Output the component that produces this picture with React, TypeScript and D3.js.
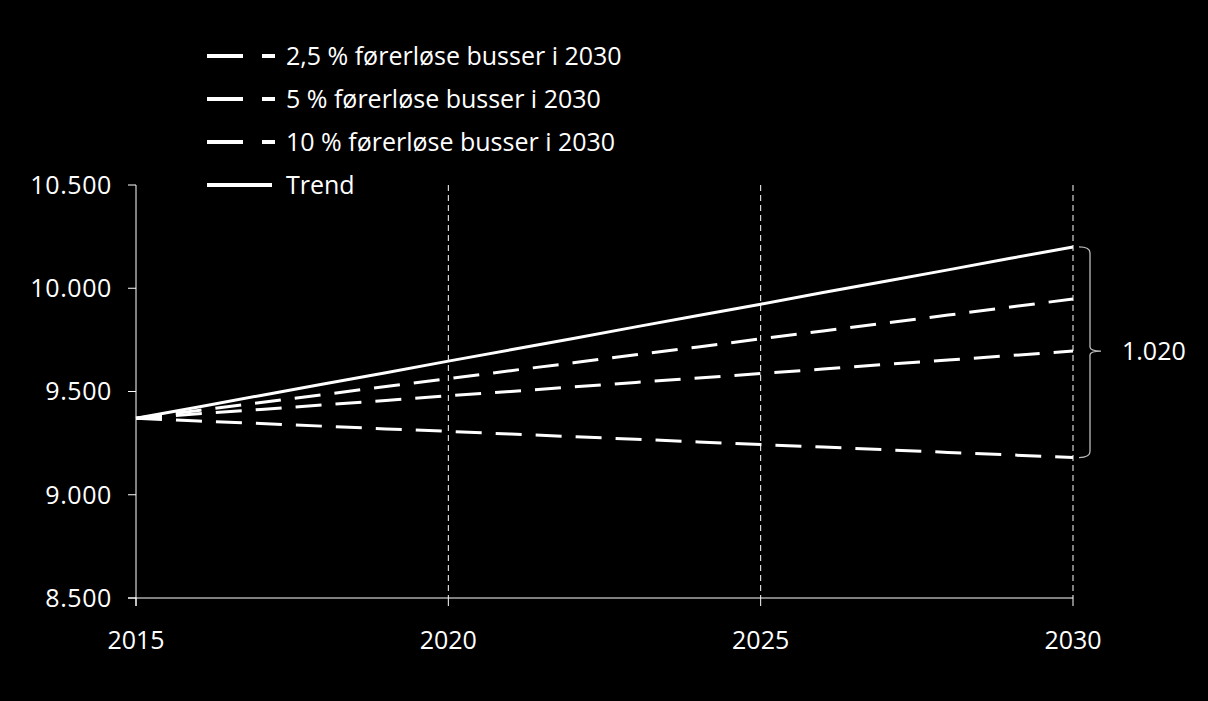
import React from "react";
import * as d3 from "d3";

const years = [2015, 2016, 2017, 2018, 2019, 2020, 2021, 2022, 2023, 2024, 2025, 2026, 2027, 2028, 2029, 2030];
const trend = [9370, 9425, 9481, 9536, 9591, 9647, 9702, 9757, 9813, 9868, 9923, 9979, 10034, 10089, 10145, 10200];
const s25 = [9370, 9408, 9447, 9485, 9524, 9562, 9601, 9639, 9678, 9716, 9755, 9793, 9832, 9870, 9909, 9948];
const s5 = [9370, 9392, 9413, 9435, 9457, 9479, 9500, 9522, 9544, 9565, 9587, 9609, 9631, 9652, 9674, 9696];
const s10 = [9370, 9357, 9345, 9332, 9319, 9307, 9294, 9281, 9269, 9256, 9243, 9231, 9218, 9205, 9193, 9180];
const yTicks = [8500, 9000, 9500, 10000, 10500];
const xTicks = [2015, 2020, 2025, 2030];
const legendLabels = ["2,5 % førerløse busser i 2030", "5 % førerløse busser i 2030", "10 % førerløse busser i 2030", "Trend"];
const braceLabel = "1.020";

const W = 1208, H = 701;
const FONT = "'Open Sans', 'Liberation Sans', sans-serif";

export default function App() {
  const x = d3.scaleLinear().domain([2015, 2030]).range([136, 1073]);
  const y = d3.scaleLinear().domain([8500, 10500]).range([598, 185]);
  const line = d3.line<number>().x((_, i) => x(years[i])).y((d) => y(d));
  const fmt = (v: number) => d3.format(",")(v).replace(",", ".");

  const dashed = [s25, s5, s10];
  const topV = trend[trend.length - 1];
  const botV = s10[s10.length - 1];
  const midV = s5[s5.length - 1];
  const bx = x(2030);
  const yT = y(topV), yB = y(botV), yM = y(midV);
  const brace = `M${bx + 6},${yT} Q${bx + 17},${yT} ${bx + 17},${yT + 6} L${bx + 17},${yM - 4} Q${bx + 17},${yM} ${bx + 28},${yM} Q${bx + 17},${yM} ${bx + 17},${yM + 4} L${bx + 17},${yB - 6} Q${bx + 17},${yB} ${bx + 6},${yB}`;

  return (
    <svg width={W} height={H} style={{ position: "absolute", left: 0, top: 0, display: "block" }} fontFamily={FONT}>
      <rect x={0} y={0} width={W} height={H} fill="#000" />
      {xTicks.slice(1).map((t) => (
        <line key={t} x1={x(t)} x2={x(t)} y1={y(10500)} y2={y(8500)} stroke="#fff" strokeWidth={1} strokeDasharray="6,4" />
      ))}
      <line x1={x(2015)} x2={x(2015)} y1={y(10500)} y2={y(8500) + 8} stroke="#fff" strokeWidth={1} />
      <line x1={x(2015) - 8} x2={x(2030)} y1={y(8500)} y2={y(8500)} stroke="#fff" strokeWidth={1} />
      {yTicks.map((t) => (
        <g key={t}>
          <line x1={x(2015) - 8} x2={x(2015)} y1={y(t)} y2={y(t)} stroke="#fff" strokeWidth={1} />
          <text x={112} y={y(t)} dy="0.35em" textAnchor="end" fill="#fff" fontSize={25} letterSpacing={0.6}>{fmt(t)}</text>
        </g>
      ))}
      {xTicks.map((t) => (
        <g key={t}>
          <line x1={x(t)} x2={x(t)} y1={y(8500)} y2={y(8500) + 8} stroke="#fff" strokeWidth={1} />
          <text x={x(t)} y={640} dy="0.35em" textAnchor="middle" fill="#fff" fontSize={25}>{t}</text>
        </g>
      ))}
      {dashed.map((s, i) => (
        <path key={i} d={line(s) || ""} fill="none" stroke="#fff" strokeWidth={3} strokeDasharray="26,14" />
      ))}
      <path d={line(trend) || ""} fill="none" stroke="#fff" strokeWidth={3} />
      <path d={brace} fill="none" stroke="#bbb" strokeWidth={1.3} />
      <text x={1122} y={yM} dy="0.35em" fill="#fff" fontSize={25}>{braceLabel}</text>
      {legendLabels.map((lab, i) => {
        const ly = 56 + i * 43;
        return (
          <g key={lab}>
            {i < 3 ? (
              <>
                <line x1={207} x2={243} y1={ly} y2={ly} stroke="#fff" strokeWidth={4} />
                <line x1={262} x2={275} y1={ly} y2={ly} stroke="#fff" strokeWidth={4} />
              </>
            ) : (
              <line x1={207} x2={272} y1={ly} y2={ly} stroke="#fff" strokeWidth={4} />
            )}
            <text x={286} y={ly} dy="0.35em" fill="#fff" fontSize={25}>{lab}</text>
          </g>
        );
      })}
    </svg>
  );
}
